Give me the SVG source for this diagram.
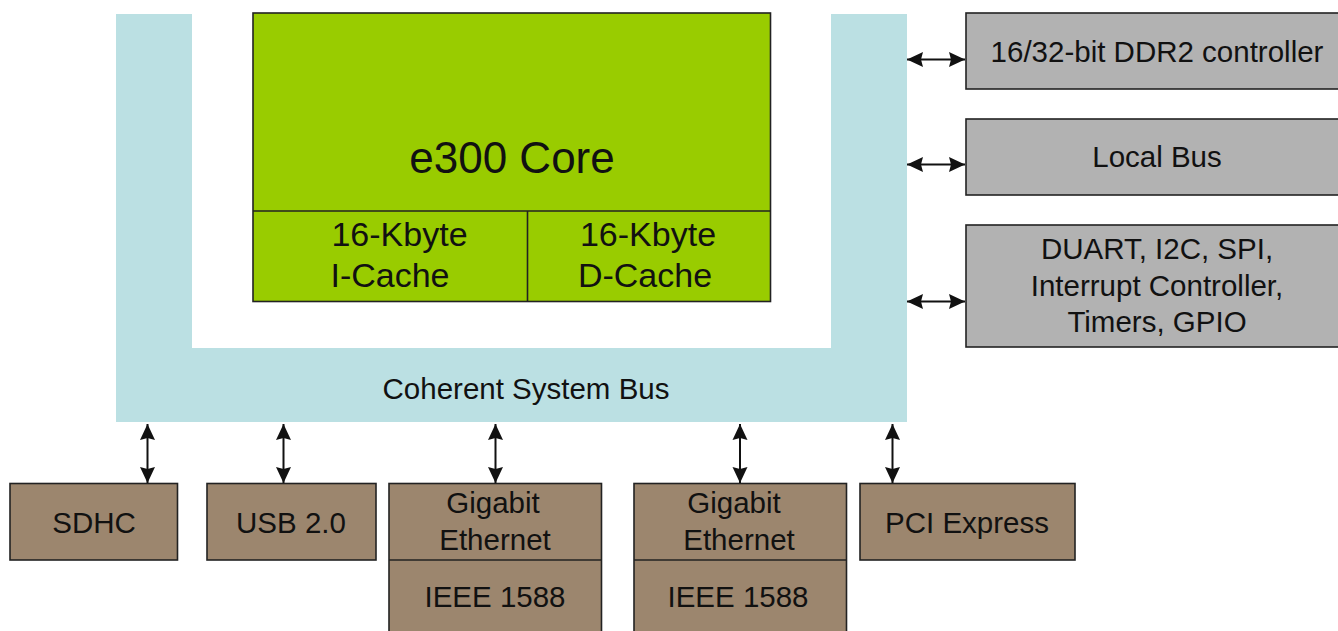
<svg xmlns="http://www.w3.org/2000/svg" width="1338" height="631" viewBox="0 0 1338 631">
<style>
text{font-family:"Liberation Sans",Arial,sans-serif;fill:#111;text-anchor:middle}
.core{fill:#99CC00;stroke:#222;stroke-width:1.6}
.gray{fill:#B2B2B2;stroke:#222;stroke-width:1.6}
.brown{fill:#9C866E;stroke:#222;stroke-width:1.6}
.conn{stroke:#111;stroke-width:2;fill:none;marker-start:url(#ah);marker-end:url(#ah)}
.t30{font-size:29.5px}
.t34{font-size:34px}
</style>
<defs>
<marker id="ah" viewBox="0 0 16 16" refX="16" refY="8" markerWidth="16" markerHeight="16" markerUnits="userSpaceOnUse" orient="auto-start-reverse">
<path d="M0,0.5 L16,8 L0,15.5 L2,8 Z" fill="#111"/>
</marker>
</defs>
<rect width="1338" height="631" fill="#fff"/>
<g id="bus">
<path d="M116,14 H192 V348 H831 V14 H907 V422 H116 Z" fill="#BBE0E3"/>
<text class="t30" x="526" y="399">Coherent System Bus</text>
</g>
<g id="core">
<rect class="core" x="253" y="13" width="517.5" height="288.5"/>
<line x1="253" y1="211" x2="770.5" y2="211" stroke="#222" stroke-width="1.6"/>
<line x1="527.5" y1="211" x2="527.5" y2="301.5" stroke="#222" stroke-width="1.6"/>
<text x="512" y="173" font-size="44">e300 Core</text>
</g>
<g id="icache">
<text class="t34" x="399.5" y="246">16-Kbyte</text>
<text class="t34" x="390" y="287">I-Cache</text>
</g>
<g id="dcache">
<text class="t34" x="648" y="246">16-Kbyte</text>
<text class="t34" x="645" y="287">D-Cache</text>
</g>
<g id="ddr2">
<rect class="gray" x="966" y="13" width="380" height="76"/>
<text class="t30" x="1157" y="62">16/32-bit DDR2 controller</text>
</g>
<g id="localbus">
<rect class="gray" x="966" y="119" width="380" height="76"/>
<text class="t30" x="1157" y="167">Local Bus</text>
</g>
<g id="duart">
<rect class="gray" x="966" y="225" width="380" height="122"/>
<text class="t30" x="1157" y="259">DUART, I2C, SPI,</text>
<text class="t30" x="1157" y="296">Interrupt Controller,</text>
<text class="t30" x="1157" y="332">Timers, GPIO</text>
</g>
<g id="sdhc">
<rect class="brown" x="10" y="483.5" width="167.5" height="76.5"/>
<text class="t30" x="94" y="533">SDHC</text>
</g>
<g id="usb">
<rect class="brown" x="207" y="483.5" width="169" height="76.5"/>
<text class="t30" x="291" y="533">USB 2.0</text>
</g>
<g id="gige1">
<rect class="brown" x="389" y="483.5" width="212.5" height="160"/>
<line x1="389" y1="560" x2="601.5" y2="560" stroke="#222" stroke-width="1.6"/>
<text class="t30" x="493" y="513">Gigabit</text>
<text class="t30" x="495" y="550">Ethernet</text>
<text class="t30" x="495" y="607">IEEE 1588</text>
</g>
<g id="gige2">
<rect class="brown" x="634" y="483.5" width="212.5" height="160"/>
<line x1="634" y1="560" x2="846.5" y2="560" stroke="#222" stroke-width="1.6"/>
<text class="t30" x="734" y="513">Gigabit</text>
<text class="t30" x="739" y="550">Ethernet</text>
<text class="t30" x="738" y="607">IEEE 1588</text>
</g>
<g id="pcie">
<rect class="brown" x="860" y="483.5" width="215" height="76.5"/>
<text class="t30" x="967" y="533">PCI Express</text>
</g>
<g id="connectors">
<line class="conn" x1="907" y1="59.5" x2="965" y2="59.5"/>
<line class="conn" x1="907" y1="164.5" x2="965" y2="164.5"/>
<line class="conn" x1="907" y1="301.5" x2="965" y2="301.5"/>
<line class="conn" x1="147.5" y1="424" x2="147.5" y2="483"/>
<line class="conn" x1="283.5" y1="424" x2="283.5" y2="483"/>
<line class="conn" x1="495.5" y1="424" x2="495.5" y2="483"/>
<line class="conn" x1="740" y1="424" x2="740" y2="483"/>
<line class="conn" x1="892.5" y1="424" x2="892.5" y2="483"/>
</g>
</svg>
